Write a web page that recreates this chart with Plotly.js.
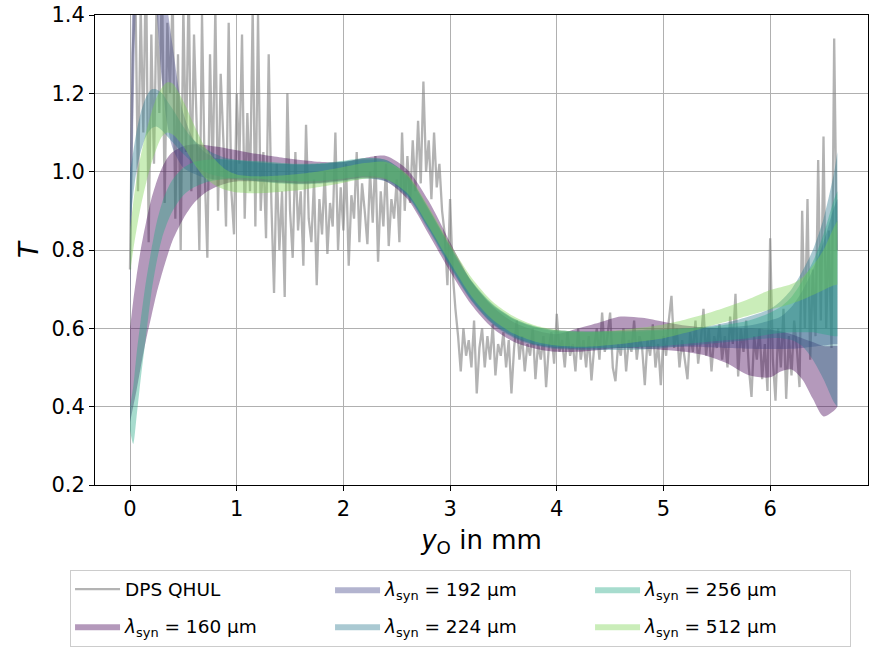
<!DOCTYPE html>
<html><head><meta charset="utf-8">
<script src="https://cdn.plot.ly/plotly-3.0.1.min.js"></script>
<style>html,body{margin:0;padding:0;background:#fff}</style>
</head><body><div id="chart" style="width:870px;height:649px"></div>
<script>
// DPS QHUL measurement, sampled every 0.025 mm starting at y_O = 0
const dpsStart = 0;
const dpsStep = 0.025;
const dpsT = [
  0.75, 1.3, 1.48, 0.95, 1.42, 1.1, 1.55, 0.82, 1.35, 1.02,
  1.45, 1.15, 1.5, 0.92, 1.38, 1.2, 1.46, 0.88, 1.3, 0.8,
  1.42, 1.05, 1.48, 0.95, 1.35, 1.12, 0.8, 1.4, 1.0, 0.78,
  1.3, 0.98, 1.42, 0.9, 1.25, 1.08, 0.86, 1.38, 0.95, 0.84,
  1.2, 1.02, 1.35, 0.88, 1.15, 0.95, 1.42, 0.86, 1.4, 0.9,
  1.05, 0.83, 1.3, 0.92, 0.69, 1.02, 0.8, 0.95, 0.68, 1.2,
  0.9, 0.78, 1.05, 0.85, 0.95, 0.76, 1.12, 0.88, 0.82, 0.98,
  0.71, 0.93, 0.84, 1.0, 0.79, 0.92, 0.86, 1.1, 0.8, 0.96,
  0.85, 1.02, 0.76, 0.94, 0.88, 1.05, 0.82, 0.97, 0.9, 0.815,
  1.0, 0.87, 1.04, 0.77, 0.95, 0.86, 1.02, 0.81, 0.93, 0.88,
  0.98, 0.82, 1.1, 0.9, 1.04, 0.92, 1.08, 0.95, 1.13, 0.97,
  1.23, 1.0, 1.08, 0.93, 1.1, 0.96, 1.02, 0.9, 0.84, 0.71,
  0.93, 0.74, 0.65, 0.58, 0.49, 0.6, 0.53, 0.57, 0.5, 0.62,
  0.434, 0.55, 0.6, 0.5, 0.58, 0.52, 0.61, 0.48, 0.56, 0.53,
  0.59, 0.5, 0.57, 0.434, 0.55, 0.62, 0.52, 0.58, 0.49, 0.56,
  0.53, 0.6, 0.47, 0.56, 0.52, 0.58, 0.45, 0.55, 0.59, 0.51,
  0.637, 0.54, 0.57, 0.5, 0.59, 0.53, 0.56, 0.49, 0.6, 0.52,
  0.57, 0.5, 0.58, 0.467, 0.55, 0.6, 0.52, 0.64, 0.54, 0.58,
  0.64, 0.5, 0.465, 0.56, 0.53, 0.6, 0.49, 0.57, 0.54, 0.62,
  0.52, 0.58, 0.55, 0.455, 0.57, 0.53, 0.61, 0.5, 0.56, 0.455,
  0.58, 0.53, 0.62, 0.683, 0.55, 0.6, 0.5, 0.57, 0.52, 0.47,
  0.59, 0.54, 0.62, 0.51, 0.57, 0.65, 0.53, 0.6, 0.49, 0.58,
  0.55, 0.61, 0.52, 0.58, 0.5, 0.63, 0.56, 0.688, 0.477, 0.6,
  0.54, 0.62, 0.5, 0.425, 0.58, 0.52, 0.6, 0.47, 0.56, 0.44,
  0.83, 0.52, 0.415, 0.6, 0.5, 0.65, 0.42, 0.58, 0.48, 0.62,
  0.55, 0.45, 0.9, 0.6, 0.93, 0.52, 0.75, 0.58, 1.03, 0.62,
  1.09, 0.6, 0.85, 0.55, 1.34, 0.8
];

// Synthetic reconstruction bands (lower / upper bound of T)
const bandX = [0, 0.03, 0.06, 0.1, 0.15, 0.2, 0.25, 0.3, 0.35, 0.4, 0.5, 0.6, 0.7, 0.8, 0.9, 1.0,
  1.2, 1.4, 1.6, 1.8, 2.0, 2.2, 2.4, 2.6, 2.8, 3.0, 3.2, 3.4, 3.6, 3.8, 4.0,
  4.2, 4.4, 4.6, 4.8, 5.0, 5.2, 5.4, 5.6, 5.8, 6.0, 6.1, 6.2, 6.3, 6.4, 6.5, 6.6, 6.63];

const lo160 = [0.36, 0.40, 0.44, 0.50, 0.57, 0.63, 0.69, 0.74, 0.785, 0.825, 0.88, 0.92, 0.945, 0.96, 0.97, 0.975,
  0.975, 0.972, 0.97, 0.972, 0.978, 0.985, 0.975, 0.93, 0.84, 0.745, 0.66, 0.6, 0.565, 0.548, 0.54,
  0.54, 0.545, 0.55, 0.548, 0.545, 0.54, 0.53, 0.51, 0.48, 0.475, 0.49, 0.495, 0.47, 0.42, 0.375, 0.39, 0.40];
const hi160 = [0.60, 0.67, 0.73, 0.80, 0.87, 0.93, 0.975, 1.01, 1.035, 1.05, 1.065, 1.07, 1.068, 1.064, 1.06, 1.055,
  1.045, 1.037, 1.03, 1.025, 1.025, 1.035, 1.04, 1.005, 0.925, 0.82, 0.72, 0.655, 0.615, 0.595, 0.585,
  0.6, 0.615, 0.63, 0.627, 0.617, 0.607, 0.602, 0.6, 0.6, 0.597, 0.592, 0.585, 0.575, 0.565, 0.555, 0.555, 0.555];

const lo192 = [0.60, 1.10, 1.45, 1.6, 1.65, 1.6, 1.41, 1.23, 1.12, 1.06, 1.01, 0.995, 0.985, 0.98, 0.98, 0.98,
  0.977, 0.973, 0.97, 0.973, 0.978, 0.985, 0.98, 0.94, 0.855, 0.76, 0.672, 0.612, 0.578, 0.558, 0.55,
  0.548, 0.548, 0.55, 0.552, 0.553, 0.553, 0.552, 0.55, 0.548, 0.547, 0.547, 0.548, 0.55, 0.553, 0.556, 0.56, 0.56];
const hi192 = [0.98, 1.6, 1.9, 2.0, 2.0, 1.9, 1.7, 1.55, 1.42, 1.32, 1.15, 1.08, 1.05, 1.035, 1.03, 1.028,
  1.023, 1.02, 1.018, 1.02, 1.026, 1.033, 1.03, 0.99, 0.905, 0.81, 0.72, 0.66, 0.624, 0.604, 0.595,
  0.592, 0.592, 0.594, 0.596, 0.598, 0.6, 0.601, 0.603, 0.607, 0.62, 0.63, 0.655, 0.695, 0.75, 0.82, 0.91, 0.93];

const lo224 = [0.86, 0.94, 1.0, 1.05, 1.09, 1.11, 1.115, 1.105, 1.09, 1.075, 1.045, 1.02, 1.0, 0.99, 0.985, 0.98,
  0.975, 0.97, 0.968, 0.97, 0.975, 0.982, 0.975, 0.935, 0.85, 0.755, 0.67, 0.61, 0.575, 0.556, 0.547,
  0.545, 0.545, 0.545, 0.546, 0.55, 0.555, 0.56, 0.565, 0.57, 0.575, 0.575, 0.57, 0.555, 0.52, 0.47, 0.41, 0.40];
const hi224 = [1.0, 1.05, 1.10, 1.15, 1.19, 1.21, 1.21, 1.2, 1.18, 1.16, 1.115, 1.08, 1.06, 1.045, 1.035, 1.03,
  1.025, 1.02, 1.018, 1.02, 1.025, 1.03, 1.025, 0.985, 0.9, 0.805, 0.718, 0.658, 0.622, 0.602, 0.592,
  0.59, 0.59, 0.59, 0.592, 0.595, 0.6, 0.605, 0.615, 0.63, 0.65, 0.67, 0.70, 0.745, 0.80, 0.88, 1.0, 1.05];

const lo256 = [0.34, 0.305, 0.37, 0.47, 0.58, 0.69, 0.77, 0.83, 0.87, 0.90, 0.94, 0.96, 0.972, 0.978, 0.982, 0.984,
  0.982, 0.978, 0.975, 0.977, 0.982, 0.988, 0.982, 0.94, 0.855, 0.76, 0.675, 0.615, 0.58, 0.56, 0.552,
  0.55, 0.55, 0.551, 0.553, 0.555, 0.56, 0.565, 0.57, 0.575, 0.585, 0.588, 0.59, 0.59, 0.59, 0.585, 0.58, 0.58];
const hi256 = [0.40, 0.45, 0.53, 0.62, 0.72, 0.80, 0.87, 0.92, 0.955, 0.98, 1.01, 1.025, 1.03, 1.032, 1.032, 1.03,
  1.027, 1.023, 1.02, 1.022, 1.028, 1.035, 1.03, 0.99, 0.905, 0.81, 0.722, 0.662, 0.625, 0.605, 0.595,
  0.592, 0.592, 0.593, 0.595, 0.597, 0.6, 0.603, 0.61, 0.62, 0.64, 0.655, 0.68, 0.72, 0.77, 0.84, 0.93, 0.95];

const lo512 = [0.74, 0.80, 0.85, 0.91, 0.97, 1.02, 1.06, 1.09, 1.10, 1.095, 1.065, 1.02, 0.985, 0.965, 0.953, 0.947,
  0.945, 0.948, 0.953, 0.962, 0.972, 0.982, 0.98, 0.945, 0.86, 0.768, 0.682, 0.622, 0.586, 0.566, 0.556,
  0.553, 0.555, 0.56, 0.567, 0.575, 0.588, 0.603, 0.618, 0.633, 0.648, 0.655, 0.663, 0.673, 0.685, 0.698, 0.71, 0.712];
const hi512 = [0.85, 0.92, 0.98, 1.04, 1.10, 1.15, 1.19, 1.215, 1.228, 1.225, 1.18, 1.12, 1.065, 1.03, 1.005, 0.993,
  0.988, 0.99, 0.995, 1.002, 1.012, 1.022, 1.025, 0.993, 0.91, 0.815, 0.73, 0.668, 0.63, 0.607, 0.596,
  0.592, 0.592, 0.596, 0.602, 0.61, 0.622, 0.637, 0.655, 0.675, 0.698, 0.705, 0.713, 0.73, 0.76, 0.80, 0.86, 0.875];

const bandNames = ['160', '192', '224', '256', '512'];
const bandLo = [lo160, lo192, lo224, lo256, lo512];
const bandHi = [hi160, hi192, hi224, hi256, hi512];
const bandColors = ['rgba(68,1,84,0.4)', 'rgba(65,68,135,0.4)', 'rgba(42,120,142,0.4)', 'rgba(34,168,132,0.4)', 'rgba(122,209,81,0.4)'];
const legendRanks = [4, 2, 5, 3, 6];

const dpsX = dpsT.map((_, i) => dpsStart + i * dpsStep);

const traces = [{
  x: dpsX, y: dpsT, type: 'scatter', mode: 'lines', name: 'DPS QHUL',
  line: {color: 'rgba(128,128,128,0.6)', width: 2.3}, legendrank: 1
}];

bandNames.forEach((nm, k) => {
  traces.push({
    x: bandX, y: bandLo[k], type: 'scatter', mode: 'lines',
    line: {width: 0, shape: 'spline', smoothing: 0.8, color: bandColors[k]},
    showlegend: false, hoverinfo: 'skip', legendgroup: nm
  });
  traces.push({
    x: bandX, y: bandHi[k], type: 'scatter', mode: 'lines', fill: 'tonexty',
    fillcolor: bandColors[k],
    line: {width: 0, shape: 'spline', smoothing: 0.8, color: bandColors[k]},
    name: '<i>λ</i><sub>syn</sub> = ' + nm + ' µm', legendgroup: nm, legendrank: legendRanks[k]
  });
});

const font = {family: 'DejaVu Sans, sans-serif', color: '#000'};
const layout = {
  width: 870, height: 649,
  margin: {l: 95, r: 2, t: 15, b: 161},
  paper_bgcolor: '#fff', plot_bgcolor: '#fff',
  font: Object.assign({size: 18}, font),
  showlegend: true,
  xaxis: {
    range: [-0.328, 6.917], tickvals: [0, 1, 2, 3, 4, 5, 6], ticktext: ['0', '1', '2', '3', '4', '5', '6'],
    showgrid: true, gridcolor: '#b0b0b0', gridwidth: 1, zeroline: false,
    showline: true, linecolor: '#000', linewidth: 1, mirror: true,
    ticks: 'outside', ticklen: 5, tickcolor: '#000',
    tickfont: Object.assign({size: 21}, font),
    title: {text: '<i>y</i><sub>O</sub> in mm', font: Object.assign({size: 26}, font), standoff: 10}
  },
  yaxis: {
    range: [0.2, 1.4], tickvals: [0.2, 0.4, 0.6, 0.8, 1.0, 1.2, 1.4],
    ticktext: ['0.2', '0.4', '0.6', '0.8', '1.0', '1.2', '1.4'],
    showgrid: true, gridcolor: '#b0b0b0', gridwidth: 1, zeroline: false,
    showline: true, linecolor: '#000', linewidth: 1, mirror: true,
    ticks: 'outside', ticklen: 5, tickcolor: '#000',
    tickfont: Object.assign({size: 21}, font),
    title: {text: '<i>T</i>', font: Object.assign({size: 26}, font), standoff: 5}
  },
  legend: {
    orientation: 'h', x: -0.0323, xanchor: 'left', y: -0.18, yanchor: 'top',
    bgcolor: '#fff', bordercolor: '#cccccc', borderwidth: 1,
    font: Object.assign({size: 18.5}, font), entrywidth: 200, itemwidth: 45
  }
};

Plotly.newPlot('chart', traces, layout, {displayModeBar: false, staticPlot: true});
</script>
</body></html>
